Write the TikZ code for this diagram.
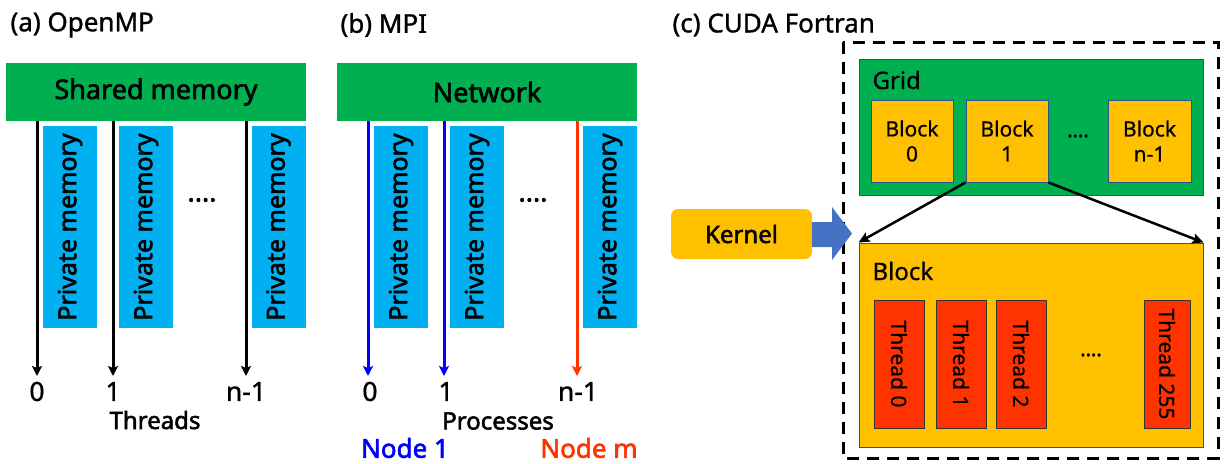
\documentclass[tikz,border=0pt]{standalone}
\usepackage{fontspec}
\setmainfont{Noto Sans}
\newfontfamily\bnoto{Noto Sans}[FakeBold=2.2]
\newfontfamily\mnoto{Noto Sans}[FakeBold=1.2]
\newfontfamily\lnoto{Noto Sans}[FakeBold=0.6]
\usetikzlibrary{arrows.meta}
\definecolor{cgreen}{HTML}{00B050}
\definecolor{ccyan}{HTML}{00B0F0}
\definecolor{corange}{HTML}{FFC000}
\definecolor{cred}{HTML}{FF3300}
\definecolor{cblue}{HTML}{4472C4}
\definecolor{cborder}{HTML}{2F528F}
\definecolor{pblue}{HTML}{0000FF}
\tikzset{
  title/.style={anchor=west,font=\mnoto\fontsize{26}{26}\selectfont},
  bar/.style={fill=cgreen,minimum width=300pt,minimum height=58pt,inner sep=0pt,font=\bnoto\fontsize{27}{27}\selectfont},
  pm/.style={fill=ccyan,rotate=90,minimum width=202pt,minimum height=54pt,inner sep=0pt,font=\bnoto\fontsize{25}{25}\selectfont},
  arr/.style={line width=3pt,-{Stealth[length=10pt,width=10pt,inset=2pt]}},
  num/.style={font=\mnoto\fontsize{26.5}{26.5}\selectfont},
  lab/.style={font=\bnoto\fontsize{24}{24}\selectfont},
  dots/.style={font=\bnoto\fontsize{27}{27}\selectfont},
  blk/.style={fill=corange,draw=cborder,line width=1pt,inner sep=0pt,align=center,font=\lnoto\fontsize{21}{25}\selectfont},
  thr/.style={fill=cred,draw=black!80,line width=1pt,rotate=-90,inner sep=0pt,font=\lnoto\fontsize{21}{21}\selectfont},
  conn/.style={line width=2.5pt,-{Stealth[length=11pt,width=10pt,inset=2pt]}},
}
\begin{document}
\begin{tikzpicture}[x=1pt,y=-1pt]
\useasboundingbox (0,0) rectangle (1225,463);
% ---------- (a) OpenMP
\node[title] (ta) at (7,25) {(a) OpenMP};
\node[bar] (shm) at (156,92) {Shared memory};
\node[pm] (pa1) at (70,227) {Private memory};
\node[pm] (pa2) at (146,227) {Private memory};
\node[pm] (pa3) at (278.5,227) {Private memory};
\node[dots] (da) at (202,200) {....};
\node[num] (la0) at (37,391.5) {0};
\node[num] (la1) at (113,391.5) {1};
\node[num] (la2) at (246,391.5) {n-1};
\node[lab] (thr) at (155,420) {Threads};
\coordinate (ea0) at (37,376);
\coordinate (ea1) at (113,376);
\coordinate (ea2) at (246,376);
\draw[arr] (shm.south -| ea0) -- (ea0);
\draw[arr] (shm.south -| ea1) -- (ea1);
\draw[arr] (shm.south -| ea2) -- (ea2);
% ---------- (b) MPI
\node[title] (tb) at (337,25) {(b) MPI};
\node[bar] (net) at (487,92) {Network};
\node[pm] (pb1) at (401,227) {Private memory};
\node[pm] (pb2) at (477,227) {Private memory};
\node[pm] (pb3) at (610,227) {Private memory};
\node[dots] (db) at (533,200) {....};
\node[num] (lb0) at (370,391.5) {0};
\node[num] (lb1) at (446,391.5) {1};
\node[num] (lb2) at (578,391.5) {n-1};
\node[lab] (proc) at (498,421) {Processes};
\node[lab,font=\bnoto\fontsize{26}{26}\selectfont,text=pblue] (n1) at (405,448) {Node 1};
\node[lab,font=\bnoto\fontsize{26}{26}\selectfont,text=cred] (nm) at (589,448) {Node m};
\coordinate (eb0) at (368,376);
\coordinate (eb1) at (444,376);
\coordinate (eb2) at (577,376);
\draw[arr,pblue] (net.south -| eb0) -- (eb0);
\draw[arr,pblue] (net.south -| eb1) -- (eb1);
\draw[arr,cred] (net.south -| eb2) -- (eb2);
% ---------- (c) CUDA Fortran
\node[title] (tc) at (669,25) {(c) CUDA Fortran};
\draw[line width=3pt,dash pattern=on 12pt off 8pt] (843,42) rectangle (1218,458);
\node[fill=cgreen,draw=cborder,line width=1pt,minimum width=344pt,minimum height=136pt,inner sep=0pt] (grid) at (1031,127) {};
\node[anchor=west,font=\lnoto\fontsize{24}{24}\selectfont] (gl) at (869,80) {Grid};
\node[blk,minimum width=82pt,minimum height=82pt] (b0) at (912,141) {Block\\0};
\node[blk,minimum width=82pt,minimum height=82pt] (b1) at (1007,141) {Block\\1};
\node[blk,minimum width=83pt,minimum height=82pt] (b2) at (1149.5,141) {Block\\n-1};
\node[font=\bnoto\fontsize{20}{20}\selectfont] (dg) at (1078,136) {....};
\node[fill=corange,draw=cborder,line width=1pt,minimum width=344pt,minimum height=204pt,inner sep=0pt] (big) at (1031,345) {};
\node[anchor=west,font=\lnoto\fontsize{24}{24}\selectfont] (bl) at (869,271) {Block};
\node[thr,minimum width=128pt,minimum height=50pt] (t0) at (899,364) {Thread 0};
\node[thr,minimum width=128pt,minimum height=50pt] (t1) at (961,364) {Thread 1};
\node[thr,minimum width=128pt,minimum height=50pt] (t2) at (1021,364) {Thread 2};
\node[thr,minimum width=128pt,minimum height=46pt] (t3) at (1167,364) {Thread 255};
\node[font=\bnoto\fontsize{20}{20}\selectfont] (dt) at (1091,355) {....};
\draw[conn] (b1.south west) -- (big.north west);
\draw[conn] (b1.south east) -- (big.north east);
\node[fill=corange,rounded corners=7pt,minimum width=141pt,minimum height=50pt,inner sep=0pt,font=\bnoto\fontsize{24}{24}\selectfont] (ker) at (741.5,234) {Kernel};
\fill[cblue] (ker.east |- 0,222) -- (832,222) -- (832,207) -- (852,233.5) -- (832,260) -- (832,247) -- (ker.east |- 0,247) -- cycle;
\end{tikzpicture}
\end{document}
